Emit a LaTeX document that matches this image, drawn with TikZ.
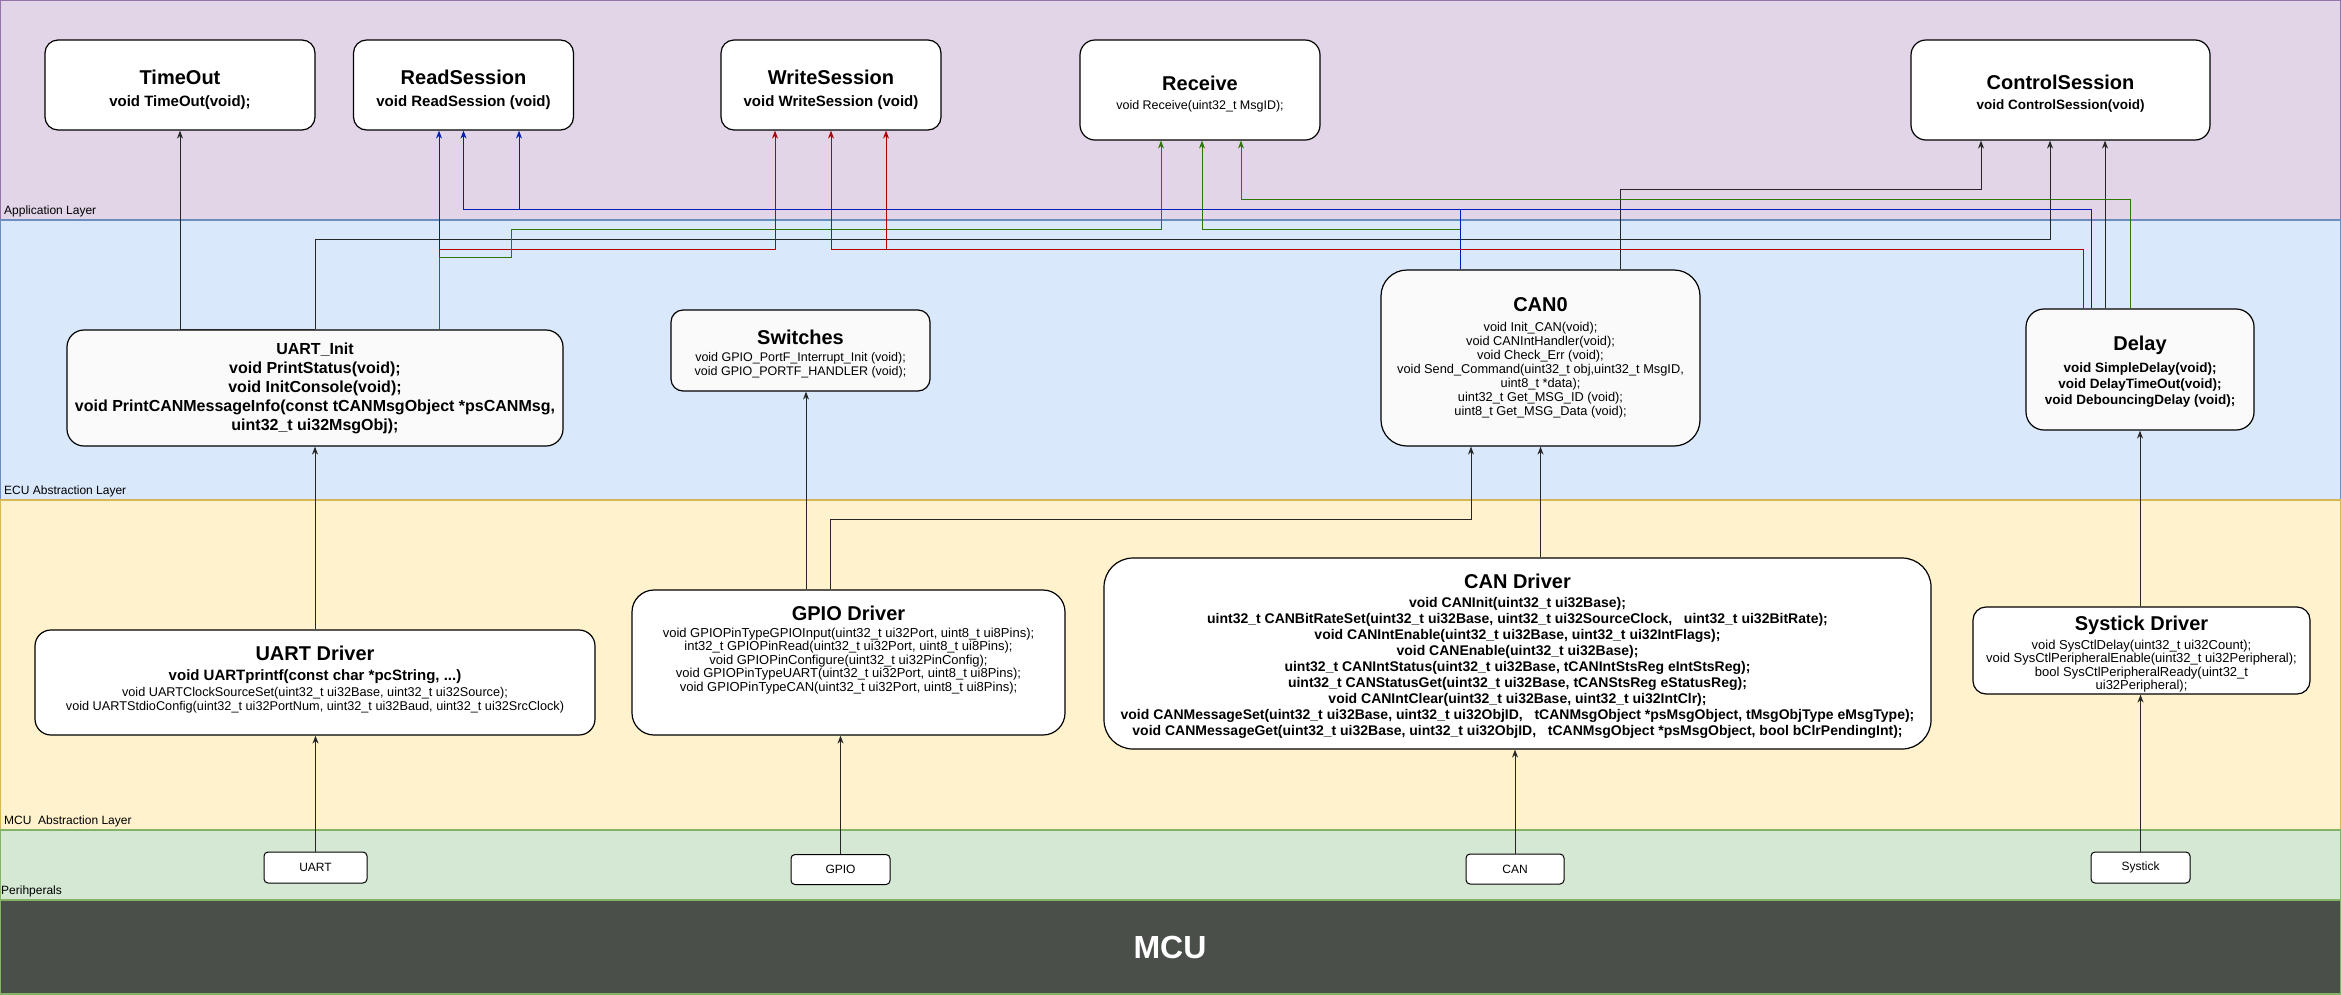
\documentclass[tikz,border=0pt]{standalone}
\usepackage{fontspec}
\setmainfont{Liberation Sans}
\usetikzlibrary{positioning, arrows.meta}

\definecolor{appfill}{HTML}{E1D5E7}
\definecolor{appline}{HTML}{9673A6}
\definecolor{ecufill}{HTML}{DAE8FC}
\definecolor{eculine}{HTML}{6C8EBF}
\definecolor{mcalfill}{HTML}{FFF2CC}
\definecolor{mcalline}{HTML}{D6B656}
\definecolor{perfill}{HTML}{D5E8D4}
\definecolor{perline}{HTML}{82B366}
\definecolor{mcufill}{HTML}{4B4F4A}
\definecolor{wireblue}{HTML}{001DBC}
\definecolor{wirered}{HTML}{B20000}
\definecolor{wiregreen}{HTML}{2D7600}

\newcommand{\setfs}[2]{\fontsize{#1pt}{#2pt}\selectfont}
\newcommand{\boxtitle}{\fontsize{20pt}{24pt}\selectfont\bfseries}

\begin{document}
\begin{tikzpicture}[
  x=1pt, y=-1pt,
  >={Stealth[length=8pt,width=6pt]},
  every node/.style={inner sep=0pt},
  box/.style={draw, line width=1.2pt, fill=white, align=center},
  ecubox/.style={box, fill=black!2},
  periph/.style={box, line width=1pt, rounded corners=4pt, font=\setfs{12}{14}},
  layerlabel/.style={anchor=west, font=\setfs{12}{14}},
  wire/.style={->, line width=1pt},
  wblack/.style={wire, draw=black!85},
  wblue/.style={wire, draw=wireblue},
  wred/.style={wire, draw=wirered},
  wgreen/.style={wire, draw=wiregreen}
]
\useasboundingbox (0,0) rectangle (2341,994);

% layers
\draw[draw=appline, fill=appfill, line width=1.3pt] (0,0) rectangle (2341,220);
\draw[draw=eculine, fill=ecufill, line width=1.3pt] (0,220) rectangle (2341,500);
\draw[draw=mcalline, fill=mcalfill, line width=1.3pt] (0,500) rectangle (2341,830);
\draw[draw=perline, fill=perfill, line width=1.3pt] (0,830) rectangle (2341,900);
\draw[draw=perline, fill=mcufill, line width=1.3pt] (0,900) rectangle (2341,994);

\node[layerlabel] (L_App) at (4,211) {Application Layer};
\node[layerlabel] (L_ECU) at (4,491) {ECU Abstraction Layer};
\node[layerlabel] (L_MCAL) at (4,821) {MCU\ \ Abstraction Layer};
\node[layerlabel] (L_Per) at (1,891) {Perihperals};
\node[font=\setfs{32}{38}\bfseries, text=white] (MCU) at (1170,947) {MCU};

\node[box, rounded corners=13pt, minimum width=270pt, minimum height=90pt, font=\setfs{15}{18}\bfseries] (TimeOut) at (180,85) {{\boxtitle\rule{0pt}{23.5pt}TimeOut}\\[4pt]void TimeOut(void);};
\node[box, rounded corners=13pt, minimum width=220pt, minimum height=90pt, font=\setfs{15}{18}\bfseries] (ReadS) at (463.5,85) {{\boxtitle\rule{0pt}{23.5pt}ReadSession}\\[4pt]void ReadSession (void)};
\node[box, rounded corners=13pt, minimum width=220pt, minimum height=90pt, font=\setfs{15}{18}\bfseries] (WriteS) at (831,85) {{\boxtitle\rule{0pt}{23.5pt}WriteSession}\\[4pt]void WriteSession (void)};
\node[box, rounded corners=15pt, minimum width=240pt, minimum height=100pt, font=\setfs{12.5}{15}] (Recv) at (1200,90) {{\boxtitle\rule{0pt}{23.5pt}Receive}\\[4pt]void Receive(uint32\_t MsgID);};
\node[box, rounded corners=15pt, minimum width=299pt, minimum height=100pt, font=\setfs{13.5}{16}\bfseries] (CtrlS) at (2060.5,90) {{\boxtitle\rule{0pt}{22pt}ControlSession}\\[4pt]void ControlSession(void)};

\node[ecubox, rounded corners=17pt, minimum width=496pt, minimum height=116pt, font=\setfs{16}{19}\bfseries] (UART_Init) at (315,388) {UART\_Init\\void PrintStatus(void);\\void InitConsole(void);\\void PrintCANMessageInfo(const tCANMsgObject *psCANMsg,\\uint32\_t ui32MsgObj);};
\node[ecubox, rounded corners=12pt, minimum width=259pt, minimum height=81pt, font=\setfs{12.5}{14}] (Switches) at (800.5,350.5) {{\boxtitle\rule{0pt}{22pt}Switches}\\[3pt]void GPIO\_PortF\_Interrupt\_Init (void);\\void GPIO\_PORTF\_HANDLER (void);};
\node[ecubox, rounded corners=26pt, minimum width=319pt, minimum height=176pt, font=\setfs{12.8}{14}] (CAN0) at (1540.5,358) {{\boxtitle CAN0}\\[6pt]void Init\_CAN(void);\\void CANIntHandler(void);\\void Check\_Err (void);\\void Send\_Command(uint32\_t obj,uint32\_t MsgID,\\uint8\_t *data);\\uint32\_t Get\_MSG\_ID (void);\\uint8\_t Get\_MSG\_Data (void);};
\node[ecubox, rounded corners=18pt, minimum width=228pt, minimum height=121pt, font=\setfs{13.5}{16}\bfseries] (Delay) at (2140,369.5) {{\boxtitle\rule{0pt}{19.5pt}Delay}\\[6pt]void SimpleDelay(void);\\void DelayTimeOut(void);\\void DebouncingDelay (void);};

\node[box, rounded corners=16pt, minimum width=560pt, minimum height=105pt, font=\setfs{12.7}{13.4}] (UART_Drv) at (315,682.5) {{\boxtitle UART Driver}\\[7pt]{\setfs{15}{18}\bfseries void UARTprintf(const char *pcString, ...)}\\[3pt]void UARTClockSourceSet(uint32\_t ui32Base, uint32\_t ui32Source);\\void UARTStdioConfig(uint32\_t ui32PortNum, uint32\_t ui32Baud, uint32\_t ui32SrcClock)\rule[-9pt]{0pt}{9pt}};
\node[box, rounded corners=22pt, minimum width=433pt, minimum height=145pt, font=\setfs{13}{13.5}] (GPIO_Drv) at (848.5,662.5) {{\boxtitle GPIO Driver}\\[3pt]void GPIOPinTypeGPIOInput(uint32\_t ui32Port, uint8\_t ui8Pins);\\int32\_t GPIOPinRead(uint32\_t ui32Port, uint8\_t ui8Pins);\\void GPIOPinConfigure(uint32\_t ui32PinConfig);\\void GPIOPinTypeUART(uint32\_t ui32Port, uint8\_t ui8Pins);\\void GPIOPinTypeCAN(uint32\_t ui32Port, uint8\_t ui8Pins);\\[14pt]\mbox{}};
\node[box, rounded corners=29pt, minimum width=827pt, minimum height=191pt, font=\setfs{14}{16}\bfseries] (CAN_Drv) at (1517.5,653.5) {{\boxtitle\rule{0pt}{20.5pt}CAN Driver}\\[3pt]void CANInit(uint32\_t ui32Base);\\uint32\_t CANBitRateSet(uint32\_t ui32Base, uint32\_t ui32SourceClock,\ \ \ uint32\_t ui32BitRate);\\void CANIntEnable(uint32\_t ui32Base, uint32\_t ui32IntFlags);\\void CANEnable(uint32\_t ui32Base);\\uint32\_t CANIntStatus(uint32\_t ui32Base, tCANIntStsReg eIntStsReg);\\uint32\_t CANStatusGet(uint32\_t ui32Base, tCANStsReg eStatusReg);\\void CANIntClear(uint32\_t ui32Base, uint32\_t ui32IntClr);\\void CANMessageSet(uint32\_t ui32Base, uint32\_t ui32ObjID,\ \ \ tCANMsgObject *psMsgObject, tMsgObjType eMsgType);\\void CANMessageGet(uint32\_t ui32Base, uint32\_t ui32ObjID,\ \ \ tCANMsgObject *psMsgObject, bool bClrPendingInt);};
\node[box, rounded corners=13pt, minimum width=337pt, minimum height=87pt, font=\setfs{13}{13.4}] (SysTick_Drv) at (2141.5,650.5) {{\boxtitle\rule{0pt}{22pt}Systick Driver}\\[4pt]void SysCtlDelay(uint32\_t ui32Count);\\void SysCtlPeripheralEnable(uint32\_t ui32Peripheral);\\bool SysCtlPeripheralReady(uint32\_t\\ui32Peripheral);};

\node[periph, minimum width=103pt, minimum height=31pt] (P_UART) at (315.5,867.5) {UART};
\node[periph, minimum width=99pt, minimum height=30pt] (P_GPIO) at (840.5,869.5) {GPIO};
\node[periph, minimum width=98pt, minimum height=30pt] (P_CAN) at (1515,869) {CAN};
\node[periph, minimum width=99pt, minimum height=31pt] (P_SysTick) at (2140.5,867.5) {Systick};

\coordinate (UI_B) at ([xshift=124pt]UART_Init.north);
\coordinate (CAN_L) at ([xshift=-80pt]CAN0.north);
\coordinate (CAN_R) at ([xshift=80pt]CAN0.north);
\coordinate (DL_R) at ([xshift=-57pt]Delay.north);
\coordinate (DL_B) at ([xshift=-49pt]Delay.north);
\coordinate (DL_K) at ([xshift=-35pt]Delay.north);
\coordinate (DL_G) at ([xshift=-10pt]Delay.north);
\coordinate (GD_S) at ([xshift=-42.5pt]GPIO_Drv.north);
\coordinate (GD_C) at ([xshift=-18.5pt]GPIO_Drv.north);

% application links
\draw[wblack] (UART_Init.north) -| (TimeOut.south);
\draw[wblack] (UART_Init.north) -- ++(0,-90) -| ([xshift=-10.5pt]CtrlS.south);
\draw[wblue] (UI_B) -- (UI_B |- ReadS.south);
\draw[wred] (UI_B) -- ++(0,-80) -| ([xshift=-56pt]WriteS.south);
\draw[wgreen] (UI_B) -- ++(0,-72) -- ++(72,0) -- ++(0,-28) -| ([xshift=-39pt]Recv.south);
\draw[wred] (CAN_L) -- ++(0,-20) -| ([xshift=55pt]WriteS.south);
\draw[wgreen] (CAN_L) -- ++(0,-40) -| ([xshift=2pt]Recv.south);
\draw[wblue] (CAN_L) -- ++(0,-60) -| ([xshift=55.5pt]ReadS.south);
\draw[wblack] (CAN_R) -- ++(0,-80) -| ([xshift=-79.5pt]CtrlS.south);
\draw[wred] (DL_R) -- ++(0,-59) -| (WriteS.south);
\draw[wblue] (DL_B) -- ++(0,-99) -| (ReadS.south);
\draw[wblack] (DL_K) -- (DL_K |- CtrlS.south);
\draw[wgreen] (DL_G) -- ++(0,-109) -| ([xshift=41pt]Recv.south);

% driver links
\draw[wblack] (UART_Drv.north) -- (UART_Init.south);
\draw[wblack] (GD_S) -- (GD_S |- Switches.south);
\draw[wblack] (GD_C) -- ++(0,-70) -| ([xshift=-69.5pt]CAN0.south);
\draw[wblack] (CAN0.south |- CAN_Drv.north) -- (CAN0.south);
\draw[wblack] (Delay.south |- SysTick_Drv.north) -- (Delay.south);

\draw[wblack] (P_UART.north) -- (P_UART.north |- UART_Drv.south);
\draw[wblack] (P_GPIO.north) -- (P_GPIO.north |- GPIO_Drv.south);
\draw[wblack] (P_CAN.north) -- (P_CAN.north |- CAN_Drv.south);
\draw[wblack] (P_SysTick.north) -- (P_SysTick.north |- SysTick_Drv.south);
\end{tikzpicture}
\end{document}
